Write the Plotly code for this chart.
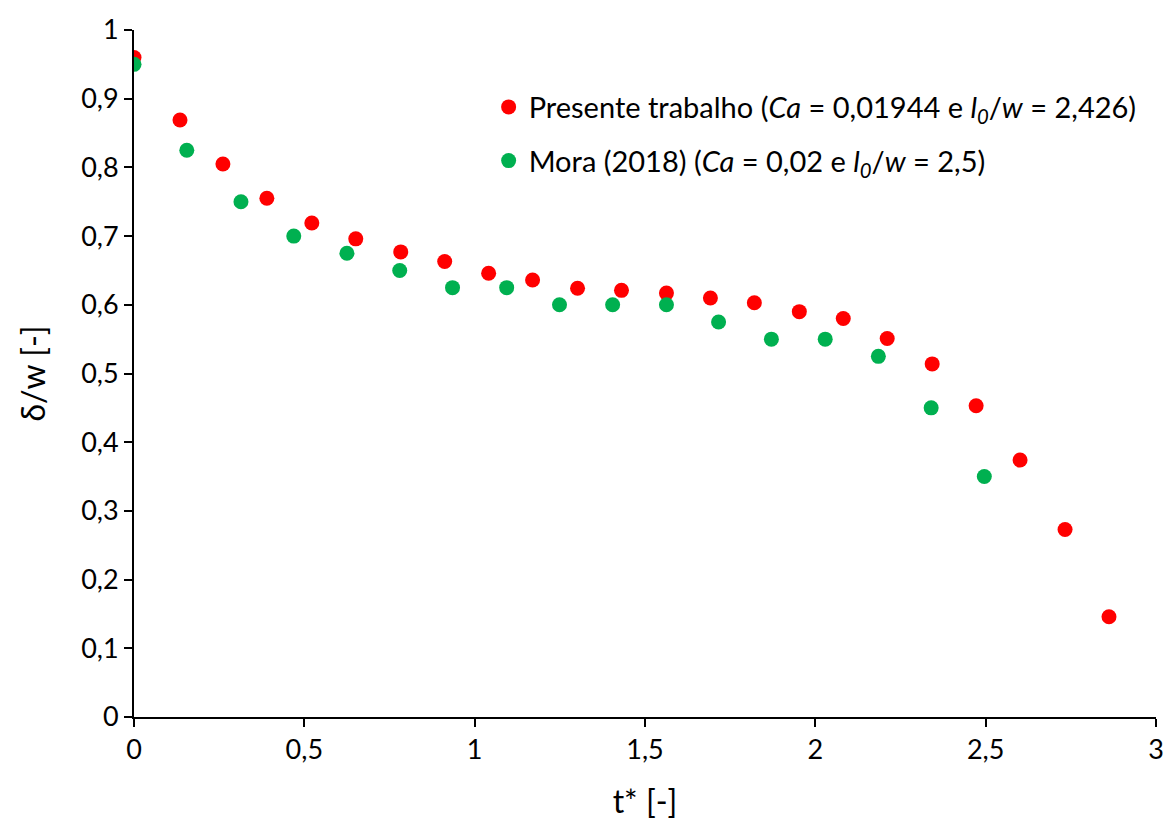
import plotly.graph_objects as go

# Presente trabalho
t_red = [0.0, 0.135, 0.261, 0.390, 0.522, 0.651, 0.783, 0.912, 1.041, 1.170, 1.302, 1.431,
         1.563, 1.692, 1.821, 1.953, 2.082, 2.211, 2.343, 2.472, 2.601, 2.733, 2.862]
d_red = [0.960, 0.869, 0.805, 0.755, 0.719, 0.696, 0.677, 0.663, 0.646, 0.636, 0.624, 0.621,
         0.617, 0.610, 0.603, 0.590, 0.580, 0.551, 0.514, 0.453, 0.374, 0.273, 0.146]

# Mora (2018)
t_green = [0.0, 0.155, 0.314, 0.469, 0.625, 0.780, 0.935, 1.094, 1.249, 1.405, 1.563,
           1.716, 1.871, 2.029, 2.185, 2.340, 2.496]
d_green = [0.950, 0.825, 0.750, 0.700, 0.675, 0.650, 0.625, 0.625, 0.600, 0.600, 0.600,
           0.575, 0.550, 0.550, 0.525, 0.450, 0.350]

font = "Lato, Open Sans, sans-serif"

fig = go.Figure()
fig.add_trace(go.Scatter(
    x=t_red, y=d_red, mode='markers', legendgroup='a',
    marker=dict(color='#FF0000', size=15),
    name='Presente trabalho (<i>Ca</i> = 0,01944 e <i>l</i><sub><i>0</i></sub>/<i>w</i> = 2,426)'
))
fig.add_trace(go.Scatter(
    x=t_green, y=d_green, mode='markers', legendgroup='b',
    marker=dict(color='#00B050', size=15),
    name='Mora (2018) (<i>Ca</i> = 0,02 e <i>l</i><sub><i>0</i></sub>/<i>w</i> = 2,5)'
))

fig.update_layout(
    width=1176, height=827,
    margin=dict(l=134, r=19, t=20, b=110),
    plot_bgcolor='white', paper_bgcolor='white',
    separators=',.',
    font=dict(family=font, size=27, color='black'),
    legend=dict(x=0.347, y=0.925, xanchor='left', yanchor='top',
                bgcolor='rgba(0,0,0,0)', font=dict(size=29),
                itemsizing='trace', tracegroupgap=13),
    showlegend=True,
)
fig.update_xaxes(
    range=[0, 3], dtick=0.5, showgrid=False, zeroline=False,
    showline=True, linecolor='black', linewidth=2,
    ticks='outside', ticklen=8, tickwidth=2, tickcolor='black',
    title=dict(text='t* [-]', standoff=26),
)
fig.update_yaxes(
    range=[0, 1], dtick=0.1, showgrid=False, zeroline=False,
    showline=True, linecolor='black', linewidth=2,
    ticks='outside', ticklen=8, tickwidth=2, tickcolor='black',
    title=dict(text='δ/w [-]', standoff=26),
)

fig.write_html("out.html", config={'displayModeBar': False},
               post_script="document.body.style.margin='0';")
